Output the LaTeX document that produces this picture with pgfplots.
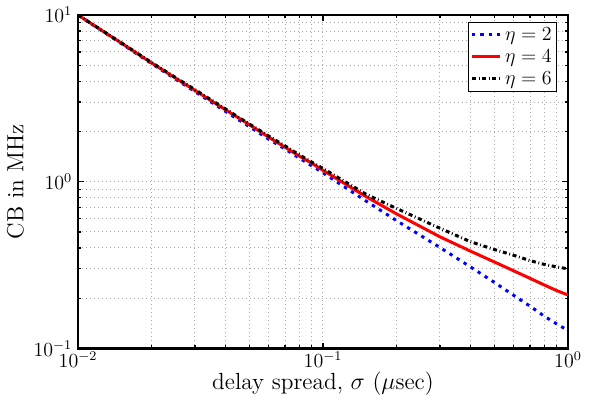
\documentclass[border=0pt]{standalone}
\usepackage{pgfplots}
\pgfplotsset{compat=1.18}
\begin{document}
\begin{tikzpicture}
\begin{axis}[
  name=ax,
  scale only axis,
  width=294pt, height=200pt,
  xmode=log, ymode=log,
  xmin=0.01, xmax=1, ymin=0.1, ymax=10,
  axis line style={line width=1.5pt},
  grid=both,
  major grid style={gray!70, dotted, line width=0.6pt},
  minor grid style={gray!70, dotted, line width=0.6pt},
  tick style={black, line width=0.8pt},
  major tick length=3.5pt, minor tick length=2pt,
  tick label style={font=\fontsize{11.5}{13}\selectfont},
  xticklabel style={yshift=1.5pt},
  label style={font=\fontsize{14}{15}\selectfont},
  xlabel={delay spread, $\sigma$ ($\mu$sec)},
  ylabel={CB in MHz},
  xlabel style={yshift=4.5pt},
  ylabel style={yshift=-1pt},
  legend style={at={(axis description cs:0.978,0.98)}, anchor=north east,
    draw=black, line width=0.6pt, inner sep=1pt, row sep=0pt,
    font=\fontsize{11.5}{12}\selectfont},
  legend cell align=left,
]
\addplot[blue, line width=1.8pt, dash pattern=on 2pt off 3pt] table {
0.01 10
0.015 6.75
0.02 5.10
0.03 3.47
0.04 2.64
0.05 2.14
0.06 1.80
0.07 1.57
0.08 1.385
0.09 1.245
0.1 1.13
0.15 0.765
0.2 0.583
0.3 0.403
0.4 0.308
0.5 0.249
0.6 0.208
0.7 0.179
0.8 0.156
0.9 0.140
1.0 0.128
};
\addlegendentry{$\eta=2$}
\addplot[red, line width=1.8pt] table {
0.01 10
0.015 6.80
0.02 5.15
0.03 3.53
0.04 2.70
0.05 2.20
0.06 1.85
0.07 1.61
0.08 1.425
0.09 1.29
0.1 1.17
0.15 0.813
0.2 0.640
0.3 0.467
0.4 0.383
0.5 0.330
0.6 0.292
0.7 0.263
0.8 0.240
0.9 0.222
1.0 0.209
};
\addlegendentry{$\eta=4$}
\addplot[black, line width=1.8pt, dash pattern=on 2.4pt off 1.6pt on 0.5pt off 1.6pt] table {
0.01 10
0.015 6.82
0.02 5.18
0.03 3.57
0.04 2.73
0.05 2.22
0.06 1.88
0.07 1.64
0.08 1.45
0.09 1.31
0.1 1.20
0.15 0.84
0.2 0.690
0.3 0.526
0.4 0.436
0.5 0.392
0.6 0.362
0.7 0.336
0.8 0.319
0.9 0.308
1.0 0.300
};
\addlegendentry{$\eta=6$}
\end{axis}
\pgfresetboundingbox
\path ([shift={(-46.8pt,-30.2pt)}]ax.south west) rectangle ([shift={(17.4pt,9pt)}]ax.north east);
\end{tikzpicture}
\end{document}
